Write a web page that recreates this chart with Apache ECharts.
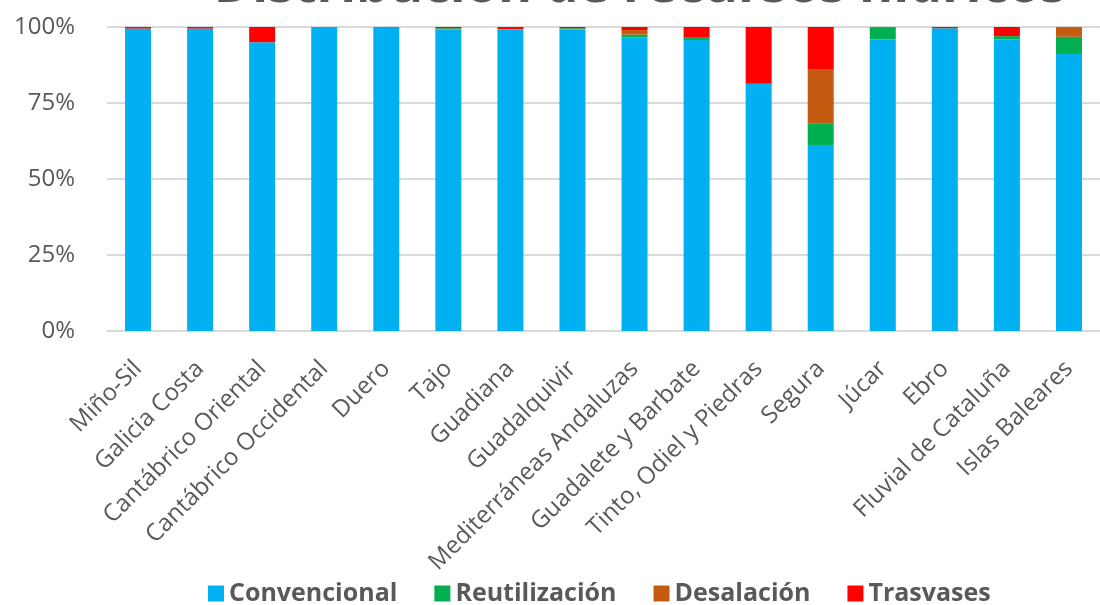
<!DOCTYPE html>
<html>
<head>
<meta charset="utf-8">
<script src="https://cdn.jsdelivr.net/npm/echarts@6/dist/echarts.min.js"></script>
<style>
  html, body { margin: 0; padding: 0; background: #fff; }
  #main { width: 1100px; height: 605px; }
</style>
</head>
<body>
<div id="main"></div>
<script>
var categories = ['Miño-Sil', 'Galicia Costa', 'Cantábrico Oriental', 'Cantábrico Occidental', 'Duero', 'Tajo',
    'Guadiana', 'Guadalquivir', 'Mediterráneas Andaluzas', 'Guadalete y Barbate', 'Tinto, Odiel y Piedras',
    'Segura', 'Júcar', 'Ebro', 'Fluvial de Cataluña', 'Islas Baleares'];
// porcentajes
var convencional  = [99.5, 99.5, 95.0, 100, 99.7, 99.3, 99.3, 99.2, 96.5, 95.7, 81.3, 61.2, 96.0, 99.6, 95.9, 91.1];
var reutilizacion = [0, 0, 0, 0, 0.3, 0.3, 0, 0.4, 1.0, 1.0, 0, 7.0, 3.7, 0, 1.1, 5.7];
var desalacion    = [0, 0, 0, 0, 0, 0, 0, 0, 1.5, 0, 0, 17.7, 0.3, 0, 0, 3.2];
var trasvases     = [0.5, 0.5, 5.0, 0, 0, 0.4, 0.7, 0.4, 1.0, 3.3, 18.7, 14.1, 0, 0.4, 3.0, 0];
var yTicks = [0, 25, 50, 75, 100];

var grey = '#595959';
var chart = echarts.init(document.getElementById('main'));

function serie(name, data, color) {
    return {
        name: name,
        type: 'bar',
        stack: 'total',
        barWidth: 26,
        itemStyle: {color: color},
        data: data
    };
}

var option = {
    backgroundColor: '#ffffff',
    animation: false,
    graphic: [{
        type: 'text',
        x: 640,
        y: 13,
        style: {
            text: 'Distribución de recursos hídricos',
            fill: grey,
            font: 'bold 52px "Open Sans"',
            align: 'center',
            verticalAlign: 'bottom'
        }
    }],
    legend: {
        data: ['Convencional', 'Reutilización', 'Desalación', 'Trasvases'],
        left: 203,
        bottom: -6,
        icon: 'rect',
        itemWidth: 16,
        itemHeight: 16,
        itemGap: 37,
        textStyle: {
            color: grey,
            fontSize: 25,
            fontWeight: 'bold',
            fontFamily: '"Liberation Sans Narrow", "Open Sans", sans-serif'
        }
    },
    grid: {
        left: 107,
        right: -8,
        top: 27,
        bottom: 274
    },
    xAxis: {
        type: 'category',
        data: categories,
        axisLine: {lineStyle: {color: '#d9d9d9', width: 2}},
        axisTick: {show: false},
        axisLabel: {
            rotate: 45,
            interval: 0,
            margin: 34,
            color: grey,
            fontSize: 24,
            fontFamily: '"Open Sans", sans-serif'
        }
    },
    yAxis: {
        type: 'value',
        min: yTicks[0],
        max: yTicks[yTicks.length - 1],
        interval: 25,
        axisLine: {show: false},
        axisTick: {show: false},
        splitLine: {lineStyle: {color: '#d9d9d9', width: 2}},
        axisLabel: {
            formatter: '{value}%',
            margin: 32,
            color: grey,
            fontSize: 24,
            fontFamily: '"Open Sans", sans-serif'
        }
    },
    series: [
        serie('Convencional', convencional, '#00B0F0'),
        serie('Reutilización', reutilizacion, '#00B050'),
        serie('Desalación', desalacion, '#C55A11'),
        serie('Trasvases', trasvases, '#FF0000')
    ]
};

chart.setOption(option);
</script>
</body>
</html>
